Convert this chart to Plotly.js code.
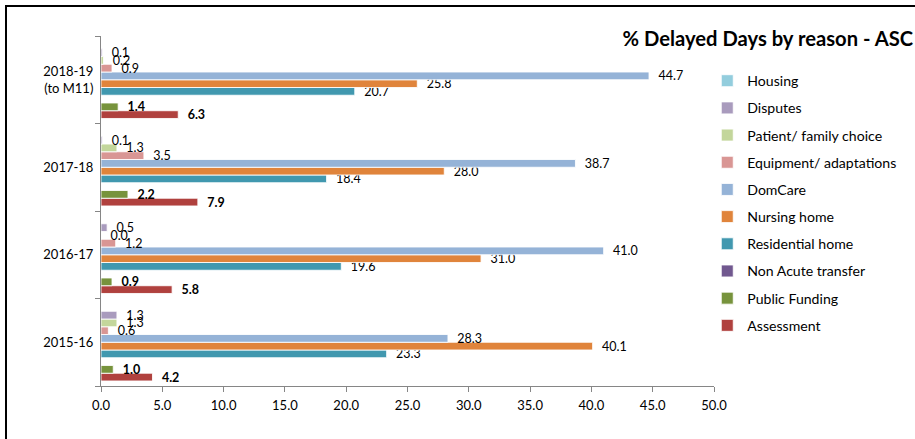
<!DOCTYPE html>
<html>
<head>
<meta charset="utf-8">
<script src="https://cdn.plot.ly/plotly-3.0.1.min.js"></script>
<style>
  html, body { margin: 0; padding: 0; background: #fff; }
  #chart { width: 915px; height: 439px; position: absolute; left: 0; top: 0; }
  #frame { position: absolute; left: 5px; top: 5px; width: 920px; height: 450px;
           border-left: 2px solid #000; border-top: 2px solid #000; pointer-events: none; }
</style>
</head>
<body>
<div id="chart"></div>
<div id="frame"></div>
<script>
// Categories (bottom to top as drawn)
var years = ['2015-16', '2016-17', '2017-18', '2018-19<br>(to M11)'];

// Series values per year (2015-16, 2016-17, 2017-18, 2018-19)
var assessment      = [4.2, 5.8, 7.9, 6.3];
var publicFunding   = [1.0, 0.9, 2.2, 1.4];
var nonAcute        = [null, null, null, null];
var residentialHome = [23.3, 19.6, 18.4, 20.7];
var nursingHome     = [40.1, 31.0, 28.0, 25.8];
var domCare         = [28.3, 41.0, 38.7, 44.7];
var equipment       = [0.6, 1.2, 3.5, 0.9];
var patientChoice   = [1.3, 0.0, 1.3, 0.2];
var disputes        = [1.3, 0.5, 0.1, 0.1];
var housing         = [null, null, null, null];

var xTicks = [0, 5, 10, 15, 20, 25, 30, 35, 40, 45, 50];

var seriesDefs = [
  {name: 'Assessment',            values: assessment,      color: '#B0413E', bold: true},
  {name: 'Public Funding',        values: publicFunding,   color: '#77933C', bold: true},
  {name: 'Non Acute transfer',    values: nonAcute,        color: '#71588F', bold: false},
  {name: 'Residential home',      values: residentialHome, color: '#4198AF', bold: false},
  {name: 'Nursing home',          values: nursingHome,     color: '#E0843B', bold: false},
  {name: 'DomCare',               values: domCare,         color: '#95B3D7', bold: false},
  {name: 'Equipment/ adaptations',values: equipment,       color: '#D99694', bold: false},
  {name: 'Patient/ family choice',values: patientChoice,   color: '#C3D69B', bold: false},
  {name: 'Disputes',              values: disputes,        color: '#A99BBD', bold: false},
  {name: 'Housing',               values: housing,         color: '#93CDDD', bold: false}
];

var FONT = 'Lato, "Open Sans", "Liberation Sans", sans-serif';

var traces = seriesDefs.map(function (s, i) {
  return {
    type: 'bar',
    orientation: 'h',
    name: s.name,
    legendgroup: 'g' + i,
    legendrank: 1000 - i,
    y: years,
    x: s.values,
    marker: {color: s.color, line: {color: 'rgba(255,255,255,0.85)', width: 1}},
    text: s.values.map(function (v) { return v === null ? '' : v.toFixed(1); }),
    texttemplate: s.bold ? '\u00A0\u00A0<b>%{text}</b>' : '\u00A0\u00A0%{text}',
    textposition: 'outside',
    constraintext: 'none',
    cliponaxis: false,
    textfont: {family: FONT, size: 12.5, color: '#000'},
    hoverinfo: 'x+name'
  };
});

var layout = {
  width: 915,
  height: 439,
  margin: {l: 101, r: 201, t: 36, b: 53},
  paper_bgcolor: '#fff',
  plot_bgcolor: '#fff',
  barmode: 'group',
  bargap: 0.115,
  bargroupgap: 0,
  font: {family: FONT, size: 13, color: '#000'},
  title: {
    text: '<b>% Delayed Days by reason - ASC</b>',
    font: {family: FONT, size: 20.2, color: '#000'},
    x: 0.998, xanchor: 'right', xref: 'container',
    y: 0.912, yanchor: 'middle', yref: 'container'
  },
  xaxis: {
    range: [0, 50],
    tickvals: xTicks,
    tickformat: '.1f',
    showgrid: false,
    zeroline: false,
    showline: true,
    linecolor: '#868686',
    linewidth: 1,
    ticks: 'outside',
    ticklen: 5,
    tickcolor: '#868686',
    ticklabelstandoff: 2,
    tickfont: {family: FONT, size: 13, color: '#000'},
    fixedrange: true
  },
  yaxis: {
    type: 'category',
    categoryorder: 'array',
    categoryarray: years,
    showgrid: false,
    zeroline: false,
    showline: true,
    linecolor: '#868686',
    linewidth: 1,
    ticks: 'outside',
    tickson: 'boundaries',
    ticklen: 5,
    tickcolor: '#868686',
    ticklabelstandoff: 4,
    tickfont: {family: FONT, size: 13, color: '#000'},
    fixedrange: true
  },
  legend: {
    x: 0.989, xanchor: 'left',
    y: 0.917, yanchor: 'top',
    traceorder: 'grouped',
    tracegroupgap: 5.85,
    font: {family: FONT, size: 14.1, color: '#000'},
    bgcolor: 'rgba(0,0,0,0)',
    borderwidth: 0
  },
  showlegend: true
};

Plotly.newPlot('chart', traces, layout, {displayModeBar: false, staticPlot: true});
</script>
</body>
</html>
